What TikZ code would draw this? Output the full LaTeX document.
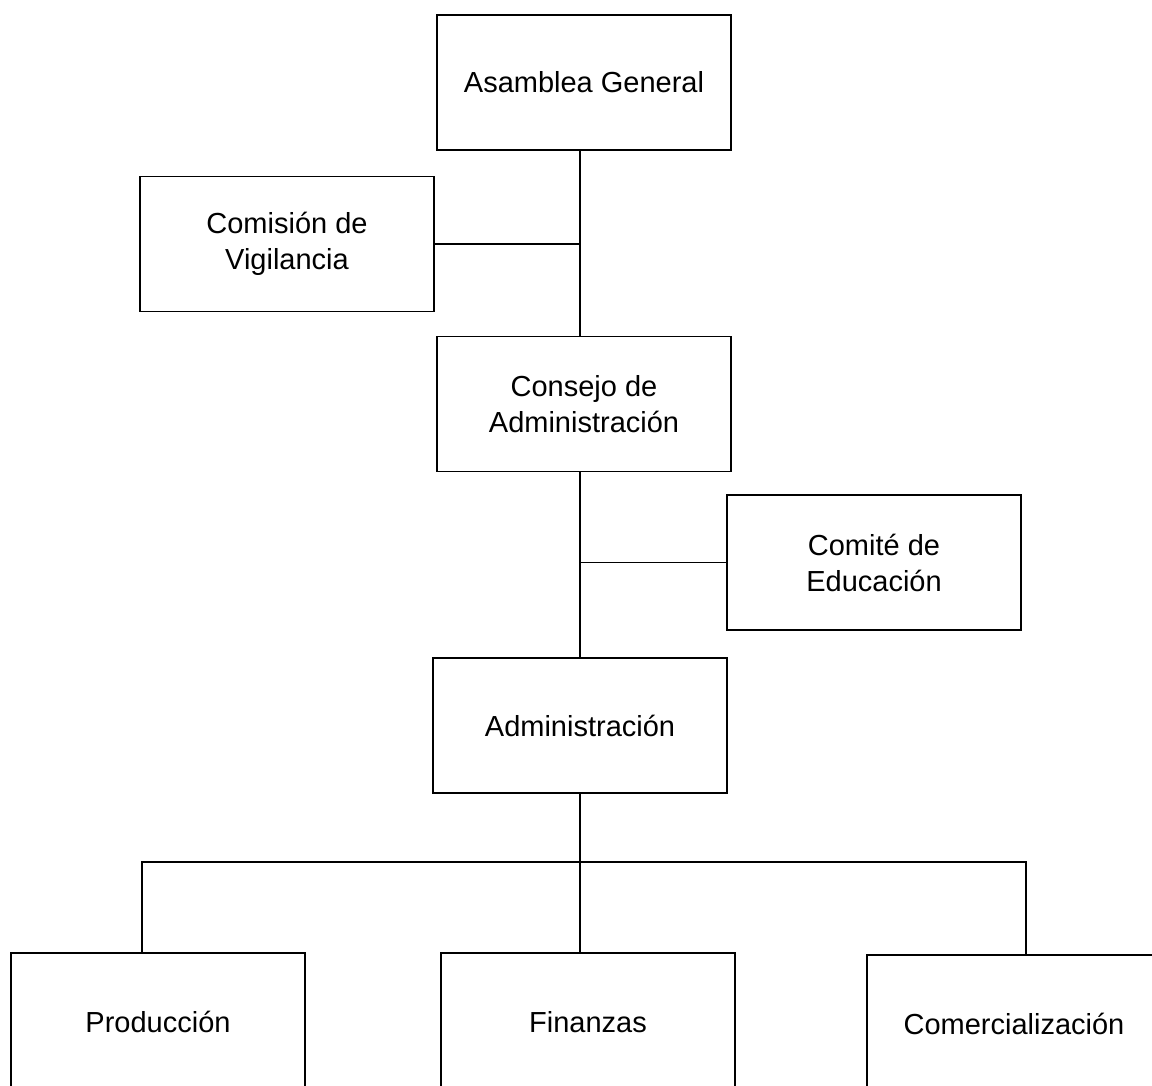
\documentclass[tikz,border=0pt]{standalone}
\usepackage{fontspec}
\setmainfont{Liberation Sans}
\begin{document}
\begin{tikzpicture}[x=1pt,y=-1pt,
  orgbox/.style={draw, line width=1.6pt, minimum width=294pt, minimum height=135pt, align=center, font=\fontsize{29}{36}\selectfont, inner sep=0pt},
  link/.style={line width=1.6pt}]
\clip (0,0) rectangle (1152,1086);
\fill[white] (0,0) rectangle (1152,1086);
\node[orgbox] (ag) at (584,82.5) {Asamblea General};
\node[orgbox] (cv) at (287,244) {Comisión de\\Vigilancia};
\node[orgbox] (cad) at (584,404) {Consejo de\\Administración};
\node[orgbox] (ce) at (874,562.5) {Comité de\\Educación};
\node[orgbox] (adm) at (580,725.5) {Administración};
\node[orgbox, minimum height=138pt] (prod) at (158,1022) {Producción};
\node[orgbox, minimum height=138pt] (fin) at (588,1022) {Finanzas};
\node[orgbox, minimum height=138pt] (com) at (1014,1024) {Comercialización};
\coordinate (bus) at (580,862);
\draw[link] ([xshift=-4pt]ag.south) -- ([xshift=-4pt]cad.north);
\draw[link] (cv.east) -- (cv.east -| adm.north);
\draw[link] ([xshift=-4pt]cad.south) -- (adm.north);
\draw[link] (ce.west) -- (ce.west -| adm.north);
\draw[link] (adm.south) -- (adm.south |- fin.north);
\draw[link] ([xshift=-16pt]prod.north) -- ([xshift=-16pt]prod.north |- bus) -- ([xshift=12pt]com.north |- bus) -- ([xshift=12pt]com.north);
\end{tikzpicture}
\end{document}
